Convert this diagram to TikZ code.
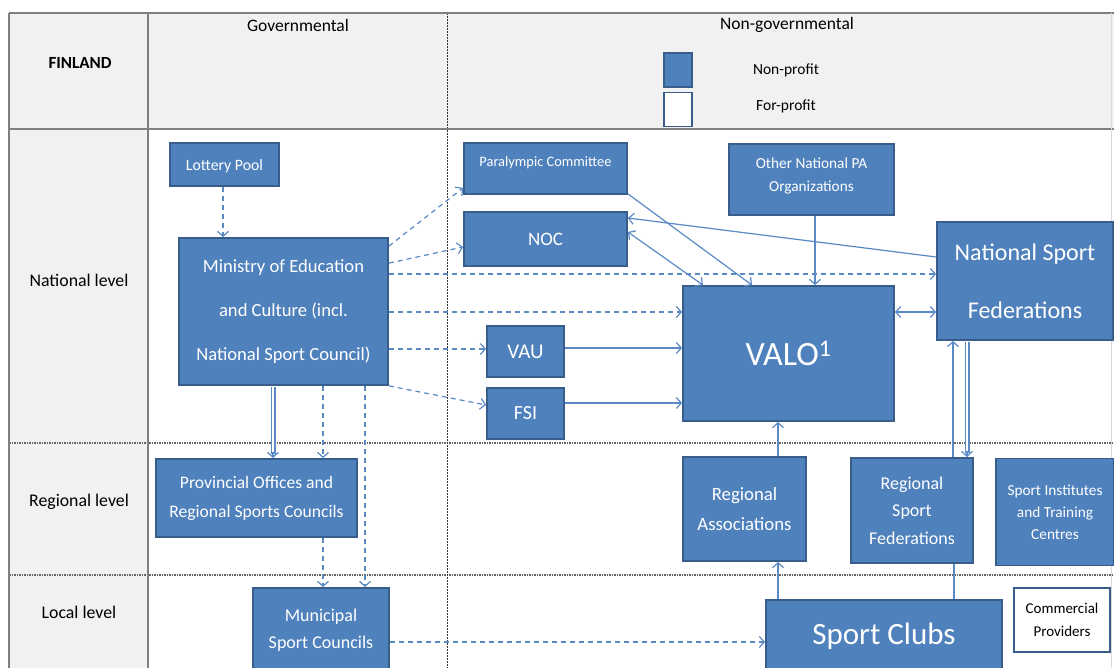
\documentclass[tikz,border=0pt]{standalone}
\usepackage{fontspec}
\setmainfont{Carlito}
\usetikzlibrary{arrows.meta}
\definecolor{boxfill}{HTML}{4F81BD}
\definecolor{boxedge}{HTML}{385D8A}
\definecolor{arr}{HTML}{5A8AC6}
\definecolor{hdr}{HTML}{F1F1F1}
\definecolor{grid}{HTML}{7F7F7F}
\begin{document}
\begin{tikzpicture}[x=1pt,y=-1pt,
  box/.style={draw=boxedge, line width=1.8pt, fill=boxfill, text=white, align=center, inner sep=0pt},
  wbox/.style={draw=boxedge, line width=1.8pt, fill=white, text=black, align=center, inner sep=0pt},
  hlabel/.style={text=black, font=\fontsize{17.5}{19}\selectfont, inner sep=0pt},
  conn/.style={draw=arr, line width=1.2pt},
  dsh/.style={conn, dash pattern=on 5pt off 4pt},
  tip/.style={-{Straight Barb[length=5pt,width=11pt]}},
  tips/.style={{Straight Barb[length=5pt,width=11pt]}-{Straight Barb[length=5pt,width=11pt]}},
  dblout/.style={draw=arr, line width=5pt},
  dblin/.style={draw=white, line width=2.6pt},
  lvl/.style={line width=1.2pt, draw=black!60, dash pattern=on 1.5pt off 1pt}
]
\useasboundingbox (0,0) rectangle (1114,668);
\fill[white] (0,0) rectangle (1114,668);
% table background
\fill[hdr] (9,13) rectangle (1114,129);
\fill[hdr] (9,129) rectangle (148,668);
\draw[lvl] (9,443) -- (1114,443);
\draw[lvl] (9,575) -- (1114,575);
\draw[black!80, line width=0.6pt, dash pattern=on 2pt off 1pt] (447,13) -- (447,668);
\draw[grid, line width=1.6pt] (9,13) -- (1114,13);
\draw[grid, line width=2pt] (9,129) -- (1114,129);
\draw[grid, line width=1.4pt] (9,13) -- (9,668);
\draw[grid, line width=1.4pt] (148,13) -- (148,668);
\draw[black!15, line width=0.8pt] (1111,13) -- (1111,668);

% header texts
\node[hlabel, font=\fontsize{17}{19}\selectfont\bfseries] (fin) at (80,63) {FINLAND};
\node[hlabel] (gov) at (298,25) {Governmental};
\node[hlabel] (ngov) at (787,25) {Non-governmental};
\node[box, line width=1.5pt, minimum width=28pt, minimum height=34pt] (legnp) at (678,70) {};
\node[wbox, line width=1.5pt, minimum width=28pt, minimum height=34pt] (legfp) at (678,109.5) {};
\node[hlabel, font=\fontsize{15.5}{17}\selectfont] (np) at (786,70) {Non-profit};
\node[hlabel, font=\fontsize{15.5}{17}\selectfont] (fp) at (786,106) {For-profit};
\node[hlabel, font=\fontsize{17.8}{19}\selectfont] (natl) at (79,280) {National level};
\node[hlabel, font=\fontsize{17.8}{19}\selectfont] (regl) at (79,502) {Regional level};
\node[hlabel, font=\fontsize{17.8}{19}\selectfont] (locl) at (79,612) {Local level};

% boxes
\node[box, minimum width=109pt, minimum height=43pt, font=\fontsize{15.8}{17}\selectfont] (lottery) at (224.5,164.5) {\raisebox{-2pt}[\height][\depth]{Lottery Pool}};
\node[box, minimum width=209pt, minimum height=147pt, font=\fontsize{18.6}{44}\selectfont] (ministry) at (283.5,311.5) {Ministry of Education\\and Culture (incl.\\National Sport Council)};
\node[box, minimum width=163pt, minimum height=51pt, font=\fontsize{14.4}{16}\selectfont] (para) at (545.5,168.5) {\raisebox{6pt}[\height][\depth]{Paralympic Committee}};
\node[box, minimum width=163pt, minimum height=54pt, font=\fontsize{19}{21}\selectfont] (noc) at (545.5,239) {NOC};
\node[box, minimum width=165pt, minimum height=71pt, font=\fontsize{15.3}{23}\selectfont] (other) at (811.5,179.5) {\raisebox{3pt}[\height][\depth]{Other National PA}\\\raisebox{3pt}[\height][\depth]{Organizations}};
\node[box, minimum width=176pt, minimum height=118pt, font=\fontsize{24}{58}\selectfont] (nsf) at (1025,281) {National Sport\\Federations};
\node[box, minimum width=211pt, minimum height=135pt, font=\fontsize{34}{36}\selectfont] (valo) at (788.5,353.5) {VALO\textsuperscript{1}};
\node[box, minimum width=77pt, minimum height=51pt, font=\fontsize{21}{23}\selectfont] (vau) at (525.5,351.5) {VAU};
\node[box, minimum width=77pt, minimum height=51pt, font=\fontsize{20}{22}\selectfont] (fsi) at (525.5,413.5) {FSI};
\node[box, minimum width=201pt, minimum height=78pt, font=\fontsize{17.6}{29}\selectfont] (prov) at (256.5,498) {Provincial Offices and\\Regional Sports Councils};
\node[box, minimum width=123pt, minimum height=104pt, font=\fontsize{18.8}{30}\selectfont] (ra) at (744.5,509) {Regional\\Associations};
\node[box, minimum width=122pt, minimum height=105pt, font=\fontsize{18}{27.5}\selectfont] (rsf) at (912,510.5) {Regional\\Sport\\Federations};
\node[box, minimum width=118pt, minimum height=107pt, font=\fontsize{15.3}{22}\selectfont] (sit) at (1055,512) {Sport Institutes\\and Training\\Centres};
\node[box, minimum width=136pt, minimum height=84pt, font=\fontsize{18}{27}\selectfont] (muni) at (321,630) {Municipal\\Sport Councils};
\node[box, minimum width=236pt, minimum height=72pt, font=\fontsize{31}{33}\selectfont] (clubs) at (884,636) {Sport Clubs};
\node[wbox, minimum width=96pt, minimum height=64pt, font=\fontsize{15}{23}\selectfont] (comm) at (1062,620) {Commercial\\Providers};

% governmental connectors
\draw[dsh, tip] (lottery.south -| 223,0) -- (ministry.north -| 223,0);
\draw[dsh, tip] ([yshift=-9pt]ministry.north east) -- ([yshift=7pt]para.south west);
\draw[dsh, tip] ([yshift=-26pt]ministry.north east) -- ([yshift=-8pt]noc.west);
\draw[dsh, tip] (ministry.east |- 0,274) -- (nsf.west |- 0,274);
\draw[dsh, tip] (ministry.east |- 0,312) -- (valo.west |- 0,312);
\draw[dsh, tip] (ministry.east |- 0,349) -- (vau.west |- 0,349);
\draw[dsh, tip] (ministry.south east) -- ([yshift=8.5pt]fsi.west);
% double arrow ministry -> provincial
\draw[dblout] ([yshift=-1pt]ministry.south -| 273,0) -- ([yshift=4pt]prov.north -| 273,0);
\draw[dblin] ([yshift=-1pt]ministry.south -| 273,0) -- ([yshift=4pt]prov.north -| 273,0);
\draw[conn, tip] ([yshift=6pt]prov.north -| 273,0) -- (prov.north -| 273,0);
\draw[dsh, tip] (ministry.south -| 323,0) -- (prov.north -| 323,0);
\draw[dsh, tip] (ministry.south -| 365,0) -- (muni.north -| 365,0);
\draw[dsh, tip] (prov.south -| 323,0) -- (muni.north -| 323,0);
\draw[dsh, tip] (muni.east |- 0,642) -- (clubs.west |- 0,642);

% non-governmental connectors
\draw[conn, tip] ([yshift=1pt]para.south east) -- (valo.north -| 752,0);
\draw[conn, tips] (noc.east |- 0,232) -- (valo.north -| 703,0);
\draw[conn, tip] (nsf.west |- 0,257) -- (noc.east |- 0,218);
\draw[conn, tip] (other.south -| 815,0) -- (valo.north -| 815,0);
\draw[conn, tips] (valo.east |- 0,312) -- (nsf.west |- 0,312);
\draw[conn, tip] (vau.east |- 0,348) -- (valo.west |- 0,348);
\draw[conn, tip] (fsi.east |- 0,403) -- (valo.west |- 0,403);
\draw[conn, tip] (ra.north -| 778,0) -- (valo.south -| 778,0);
\draw[conn, tip] (clubs.north -| 778,0) -- (ra.south -| 778,0);
\draw[conn, tip] (rsf.north -| 953,0) -- (nsf.south -| 953,0);
% double arrow nsf -> rsf
\draw[dblout] ([yshift=-1pt]nsf.south -| 967,0) -- ([yshift=4pt]rsf.north -| 967,0);
\draw[dblin] ([yshift=-1pt]nsf.south -| 967,0) -- ([yshift=4pt]rsf.north -| 967,0);
\draw[conn, tip] ([yshift=6pt]rsf.north -| 967,0) -- (rsf.north -| 967,0);
\draw[conn] (rsf.south -| 954,0) -- (clubs.north -| 954,0);
\end{tikzpicture}
\end{document}
